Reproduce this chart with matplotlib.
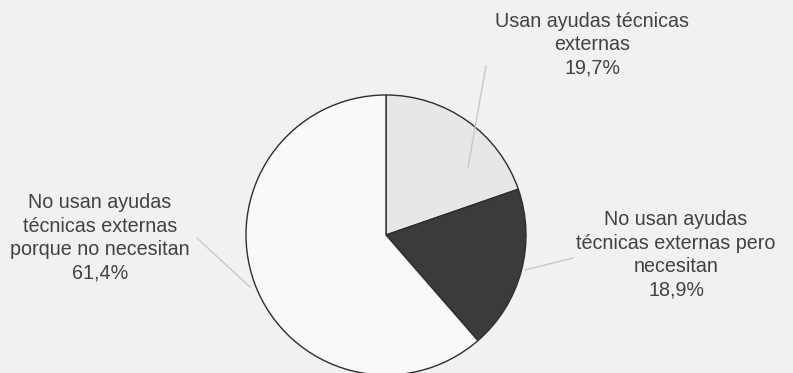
import matplotlib
matplotlib.use("Agg")
import matplotlib.pyplot as plt

labels = ["Usan ayudas técnicas\nexternas\n19,7%",
          "No usan ayudas\ntécnicas externas pero\nnecesitan\n18,9%",
          "No usan ayudas\ntécnicas externas\nporque no necesitan\n61,4%"]
values = [19.7, 18.9, 61.4]
colors = ["#e7e7e7", "#3b3b3b", "#f9f9f9"]

W, H = 793, 373
fig = plt.figure(figsize=(W / 100, H / 100), dpi=100)
fig.patch.set_facecolor("#f1f1f1")
ax = fig.add_axes([0, 0, 1, 1])

cx, cy, r = 386, H - 235, 140
ax.pie(values, colors=colors, startangle=90, counterclock=False,
       center=(cx, cy), radius=r, frame=True,
       wedgeprops=dict(edgecolor="#2e2e2e", linewidth=1.0))
ax.set_xlim(0, W)
ax.set_ylim(0, H)
ax.set_aspect("equal")
ax.axis("off")

font = dict(family=["Liberation Sans", "DejaVu Sans"], size=14.2, color="#424242")
# label text position, leader start, leader end (pixel coords, y from top)
layout = [
    ((592, 45), (486, 66), (468, 167)),
    ((676, 255), (573, 258), (525, 270)),
    ((100, 238), (197, 238), (250, 287)),
]
for lab, (tp, p0, p1) in zip(labels, layout):
    ax.text(tp[0], H - tp[1], lab, ha="center", va="center",
            linespacing=1.3, **font)
    ax.plot([p0[0], p1[0]], [H - p0[1], H - p1[1]], color="#c8c8c8", lw=1.0)

fig.savefig("out.png", dpi=100, facecolor=fig.get_facecolor())
